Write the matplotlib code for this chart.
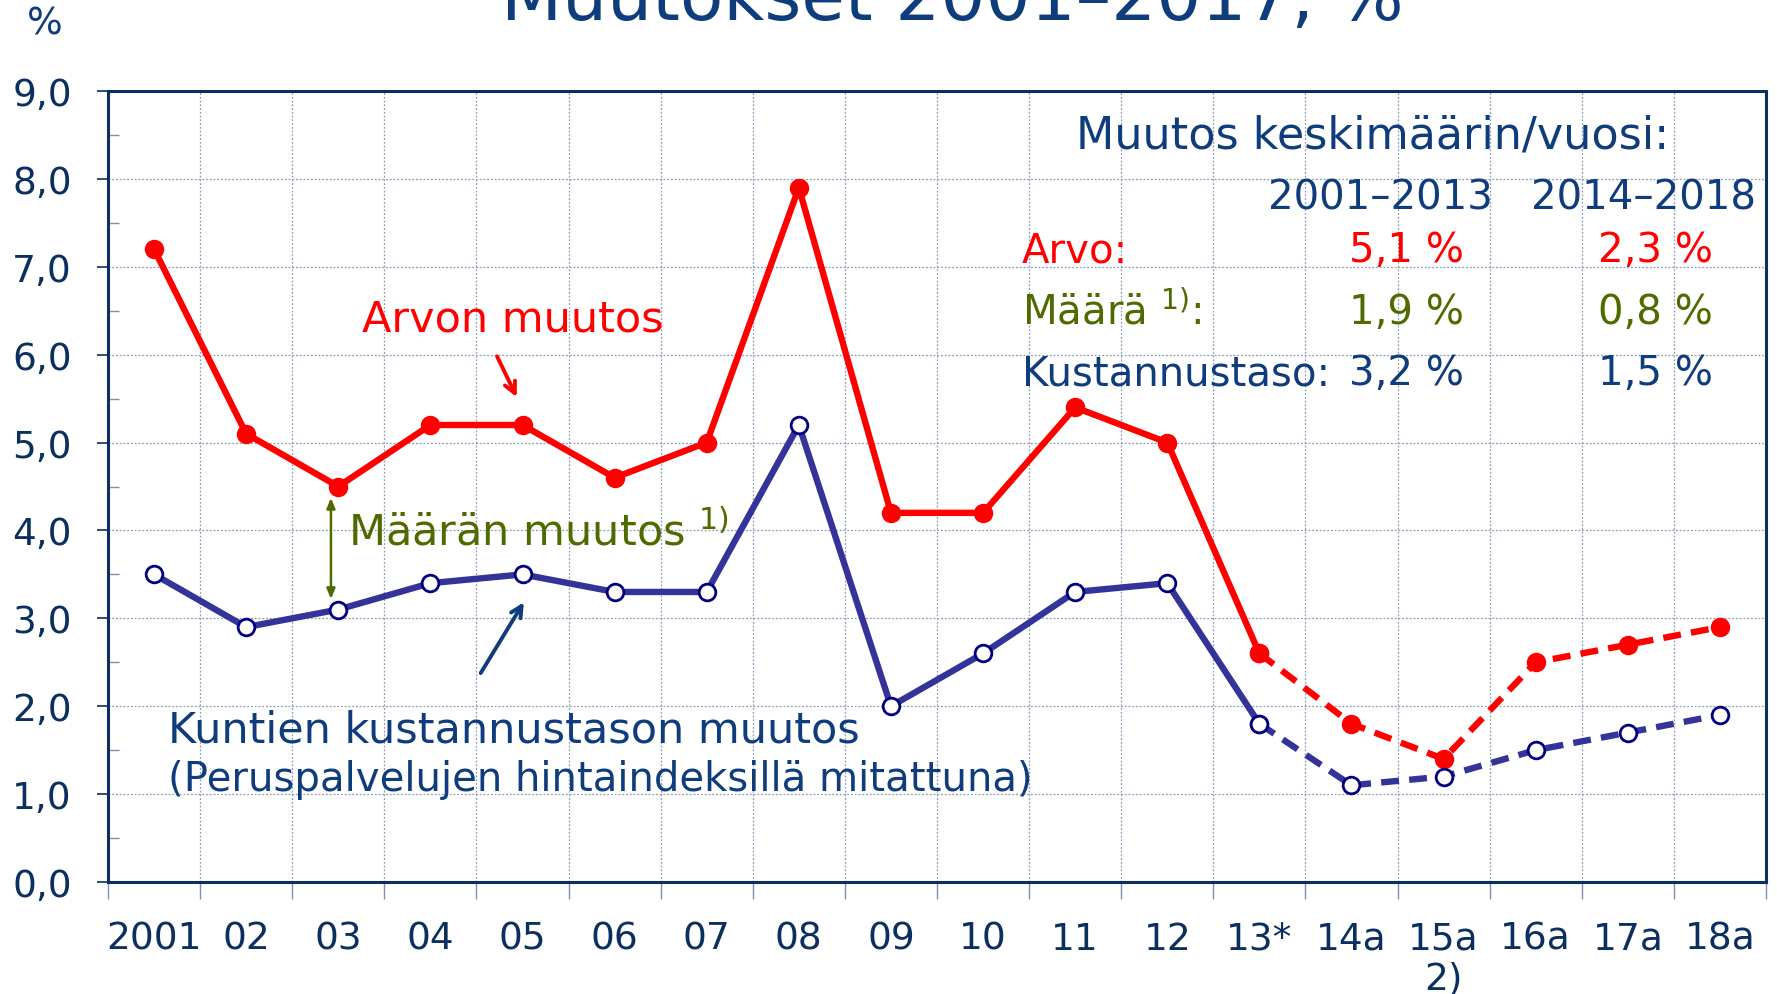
import matplotlib
matplotlib.use("Agg")
import matplotlib.pyplot as plt
from matplotlib.ticker import MultipleLocator, FixedLocator, NullFormatter

# Arvon ja kustannustason muutokset, %
years = ["2001", "02", "03", "04", "05", "06", "07", "08", "09", "10",
         "11", "12", "13*", "14a", "15a", "16a", "17a", "18a"]
arvo = [7.2, 5.1, 4.5, 5.2, 5.2, 4.6, 5.0, 7.9, 4.2, 4.2,
        5.4, 5.0, 2.6, 1.8, 1.4, 2.5, 2.7, 2.9]
kustannus = [3.5, 2.9, 3.1, 3.4, 3.5, 3.3, 3.3, 5.2, 2.0, 2.6,
             3.3, 3.4, 1.8, 1.1, 1.2, 1.5, 1.7, 1.9]
y_ticks = [0, 1, 2, 3, 4, 5, 6, 7, 8, 9]
split = 12  # 13* onwards is forecast (dashed)

table_head = ["2001\u20132013", "2014\u20132018"]
table_rows = ["Arvo:", "M\u00e4\u00e4r\u00e4 $^{1)}$:", "Kustannustaso:"]
table_a = ["5,1 %", "1,9 %", "3,2 %"]
table_b = ["2,3 %", "0,8 %", "1,5 %"]

RED = "#FF0000"
BLUE = "#333399"
NAVY = "#0F3C7C"
DARK = "#0B2F5F"
OLIVE = "#4F6B00"

plt.rcParams['font.family'] = ['DejaVu Sans']

fig = plt.figure(figsize=(17.77, 9.95), dpi=100)
ax = fig.add_axes([0.0608, 0.1126, 0.933, 0.7949])

x = list(range(len(years)))
dash = (0, (2.8, 1.6))

# solid part
ax.plot(x[:split + 1], arvo[:split + 1], color=RED, lw=4.6, marker="o",
        ms=13, mfc=RED, mec=RED, zorder=4)
ax.plot(x[:split + 1], kustannus[:split + 1], color=BLUE, lw=4.6, marker="o",
        ms=12, mfc="white", mec="#000080", mew=2.0, zorder=4)
# forecast part
ax.plot(x[split:], arvo[split:], color=RED, lw=4.6, ls=dash,
        marker="o", ms=13, mfc=RED, mec=RED, zorder=4)
ax.plot(x[split:], kustannus[split:], color=BLUE, lw=4.6, ls=dash,
        marker="o", ms=12, mfc="white", mec="#000080", mew=2.0, zorder=4)

ax.set_xlim(-0.5, len(years) - 0.5)
ax.set_ylim(0, 9)

# y axis
ax.yaxis.set_major_locator(FixedLocator(y_ticks))
ax.yaxis.set_minor_locator(MultipleLocator(0.5))
ax.set_yticklabels([f"{v:.1f}".replace(".", ",") for v in y_ticks])
ax.tick_params(axis="y", which="major", direction="out", length=8, width=1.2,
               colors=DARK, labelsize=27, pad=18)
ax.tick_params(axis="y", which="minor", direction="in", length=8, width=1.0,
               color="#7F8FAF")

# x axis: labels at centres, ticks at boundaries
ax.set_xticks(x)
ax.set_xticklabels(years)
ax.set_xticks([i + 0.5 for i in range(-1, len(years))], minor=True)
ax.xaxis.set_minor_formatter(NullFormatter())
ax.tick_params(axis="x", which="major", length=0, colors=DARK, labelsize=27,
               pad=28)
ax.tick_params(axis="x", which="minor", direction="out", length=12,
               width=1.0, color="#7F8FAF")
ax.text(14, -1.1, "2)", ha="center", va="center", fontsize=27, color=DARK)

# grid
ax.grid(True, which="major", axis="y", color="#8A9AB8", lw=0.9, ls=(0, (1.5, 1.5)))
ax.grid(True, which="minor", axis="x", color="#8A9AB8", lw=0.9, ls=(0, (1.5, 1.5)))
ax.set_axisbelow(True)

for side in ["left", "right", "top", "bottom"]:
    ax.spines[side].set_color(DARK)
    ax.spines[side].set_linewidth(2.2)

# title (cut off at top) and unit
fig.text(0.536, 0.98, "Muutokset 2001\u20132017, %", ha="center",
         va="baseline", fontsize=51, color=NAVY)
fig.text(0.025, 0.975, "%", ha="center", va="center", fontsize=27, color=NAVY)

# annotations
ax.text(3.89, 6.41, "Arvon muutos", color=RED, fontsize=31, ha="center",
        va="center")
ax.annotate("", xy=(3.95, 5.49), xytext=(3.71, 6.01),
            arrowprops=dict(arrowstyle="->,head_length=0.8,head_width=0.4",
                            color=RED, lw=2.8))

ax.text(2.1, 3.98, "M\u00e4\u00e4r\u00e4n muutos $^{1)}$", color=OLIVE,
        fontsize=31, ha="left", va="center")
ax.annotate("", xy=(1.92, 4.37), xytext=(1.92, 3.22),
            arrowprops=dict(arrowstyle="<|-|>,head_length=0.6,head_width=0.25",
                            color=OLIVE, lw=1.8, shrinkA=0, shrinkB=0))

ax.annotate("", xy=(4.03, 3.21), xytext=(3.53, 2.35),
            arrowprops=dict(arrowstyle="->,head_length=0.8,head_width=0.4",
                            color=NAVY, lw=2.8))
ax.text(0.15, 1.73, "Kuntien kustannustason muutos", color=NAVY, fontsize=31,
        ha="left", va="center")
ax.text(0.15, 1.17, "(Peruspalvelujen hintaindeksill\u00e4 mitattuna)",
        color=NAVY, fontsize=29, ha="left", va="center")

# summary table
ax.text(13.23, 8.5, "Muutos keskim\u00e4\u00e4rin/vuosi:", color=NAVY,
        fontsize=32, ha="center", va="center")
ax.text(13.31, 7.79, table_head[0], color=NAVY, fontsize=29, ha="center",
        va="center")
ax.text(16.17, 7.79, table_head[1], color=NAVY, fontsize=29, ha="center",
        va="center")
row_colors = [RED, OLIVE, NAVY]
for i, (lab, a, b) in enumerate(zip(table_rows, table_a, table_b)):
    yy = 7.19 - 0.7 * i
    ax.text(9.42, yy, lab, color=row_colors[i], fontsize=29, ha="left",
            va="center")
    ax.text(13.6, yy, a, color=row_colors[i], fontsize=29, ha="center",
            va="center")
    ax.text(16.3, yy, b, color=row_colors[i], fontsize=29, ha="center",
            va="center")

fig.savefig("out.png", dpi=100)
